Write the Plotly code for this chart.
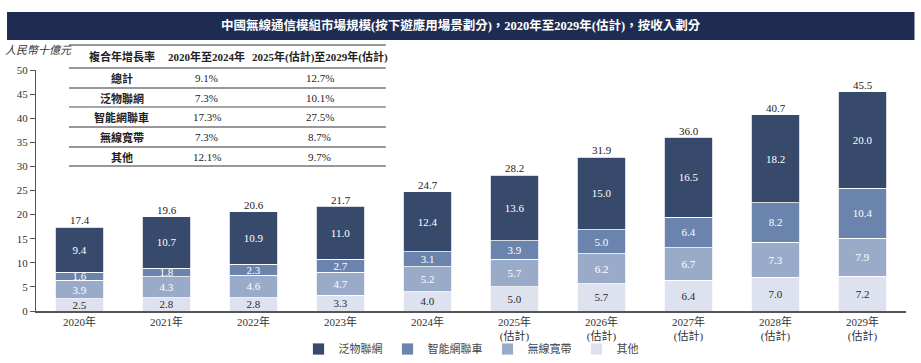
import plotly.graph_objects as go

years = ["2020年", "2021年", "2022年", "2023年", "2024年",
         "2025年<br>(估計)", "2026年<br>(估計)", "2027年<br>(估計)", "2028年<br>(估計)", "2029年<br>(估計)"]
iot = [9.4, 10.7, 10.9, 11.0, 12.4, 13.6, 15.0, 16.5, 18.2, 20.0]
car = [1.6, 1.8, 2.3, 2.7, 3.1, 3.9, 5.0, 6.4, 8.2, 10.4]
broadband = [3.9, 4.3, 4.6, 4.7, 5.2, 5.7, 6.2, 6.7, 7.3, 7.9]
other = [2.5, 2.8, 2.8, 3.3, 4.0, 5.0, 5.7, 6.4, 7.0, 7.2]
totals = [17.4, 19.6, 20.6, 21.7, 24.7, 28.2, 31.9, 36.0, 40.7, 45.5]

series_names = ["其他", "無線寬帶", "智能網聯車", "泛物聯網"]

table_header = ["複合年增長率", "2020年至2024年", "2025年(估計)至2029年(估計)"]
table_rows = ["總計", "泛物聯網", "智能網聯車", "無線寬帶", "其他"]
cagr_hist = ["9.1%", "7.3%", "17.3%", "7.3%", "12.1%"]
cagr_fore = ["12.7%", "10.1%", "27.5%", "8.7%", "9.7%"]

title = "中國無線通信模組市場規模(按下遊應用場景劃分)，2020年至2029年(估計)，按收入劃分"
y_title = "人民幣十億元"

FONT = "Liberation Serif, Noto Sans CJK TC, serif"
colors = {"其他": "#dde2ee", "無線寬帶": "#9aabc9", "智能網聯車": "#6a84ae", "泛物聯網": "#374a6b"}
text_colors = {"其他": "#2a2a2a", "無線寬帶": "white", "智能網聯車": "white", "泛物聯網": "white"}
values = {"其他": other, "無線寬帶": broadband, "智能網聯車": car, "泛物聯網": iot}

W, H = 921, 363
L, R, T, B = 36, 14.5, 70, 52
pw, ph = W - L - R, H - T - B


def px(x):
    return (x - L) / pw


def py(y):
    return (H - B - y) / ph


fig = go.Figure()
for name in series_names:
    fig.add_trace(go.Bar(
        x=years, y=values[name], name=name,
        marker=dict(color=colors[name], line=dict(color="white", width=0.8)),
        text=[f"{v:.1f}" for v in values[name]],
        textposition="inside", insidetextanchor="middle", textangle=0,
        constraintext="none",
        textfont=dict(family=FONT, size=11, color=text_colors[name]),
    ))

fig.add_trace(go.Scatter(
    x=years, y=totals, mode="text", text=[f"{v:.1f}" for v in totals],
    textposition="top center", textfont=dict(family=FONT, size=11, color="#222"),
    showlegend=False, hoverinfo="skip", cliponaxis=False,
))

shapes = []
annotations = []

# title bar
shapes.append(dict(type="rect", xref="paper", yref="paper",
                   x0=px(7), x1=px(915), y0=py(40), y1=py(12),
                   fillcolor="#1e2c52", line=dict(width=0), layer="above"))
annotations.append(dict(xref="paper", yref="paper", x=px(461), y=py(26),
                        text=f"<b>{title}</b>", showarrow=False,
                        font=dict(family=FONT, size=12.5, color="white"),
                        xanchor="center", yanchor="middle"))

# y-axis title
annotations.append(dict(xref="paper", yref="paper", x=px(3), y=py(50),
                        text=f"<i>{y_title}</i>", showarrow=False,
                        font=dict(family=FONT, size=11, color="#333"),
                        xanchor="left", yanchor="middle"))

# table
tx0, tx1 = 69, 386
col_x = [122, 207, 320]
shapes.append(dict(type="rect", xref="paper", yref="paper",
                   x0=px(tx0), x1=px(tx1), y0=py(166), y1=py(45),
                   fillcolor="white", line=dict(width=0), layer="above"))
line_ys = [45, 68, 88, 107, 127, 147, 166]
for i, ly in enumerate(line_ys):
    shapes.append(dict(type="line", xref="paper", yref="paper",
                       x0=px(tx0), x1=px(tx1), y0=py(ly), y1=py(ly),
                       line=dict(color="#8a8a8a" if i == 3 else "#333", width=1.5 if i == 3 else 1.2),
                       layer="above"))
for cx, htxt in zip(col_x, table_header):
    annotations.append(dict(xref="paper", yref="paper", x=px(cx), y=py(57),
                            text=f"<b>{htxt}</b>", showarrow=False,
                            font=dict(family=FONT, size=11, color="#222"),
                            xanchor="center", yanchor="middle"))
row_ys = [78, 98, 117, 137, 157]
for ry, rname, h, f in zip(row_ys, table_rows, cagr_hist, cagr_fore):
    for cx, txt, bold in zip(col_x, [rname, h, f], [True, False, False]):
        annotations.append(dict(xref="paper", yref="paper", x=px(cx), y=py(ry),
                                text=f"<b>{txt}</b>" if bold else txt, showarrow=False,
                                font=dict(family=FONT, size=11, color="#222"),
                                xanchor="center", yanchor="middle"))

fig.update_layout(
    width=W, height=H,
    margin=dict(l=L, r=R, t=T, b=B, pad=0, autoexpand=False),
    barmode="stack", bargap=0.448,
    plot_bgcolor="white", paper_bgcolor="white",
    font=dict(family=FONT, size=11, color="#333"),
    shapes=shapes, annotations=annotations,
    legend=dict(orientation="h", x=0.5, xanchor="center", y=py(349), yanchor="middle",
                traceorder="reversed", font=dict(family=FONT, size=11, color="#444"),
                itemwidth=30, bgcolor="rgba(0,0,0,0)"),
    showlegend=True,
    xaxis=dict(showline=True, linecolor="#555", linewidth=1.5, ticks="",
               tickfont=dict(family=FONT, size=11, color="#333"),
               range=[-0.5, 9.5], fixedrange=True, automargin=False),
    yaxis=dict(range=[0, 50], dtick=5, showgrid=False, zeroline=False,
               showline=True, linecolor="#555", linewidth=1.2,
               ticks="outside", ticklen=5, tickcolor="#555", automargin=False,
               tickfont=dict(family=FONT, size=11, color="#333")),
)

fig.write_html("out.html", config={"displayModeBar": False},
               post_script="document.body.style.margin='0';document.body.style.padding='0';document.body.style.overflow='hidden';")
